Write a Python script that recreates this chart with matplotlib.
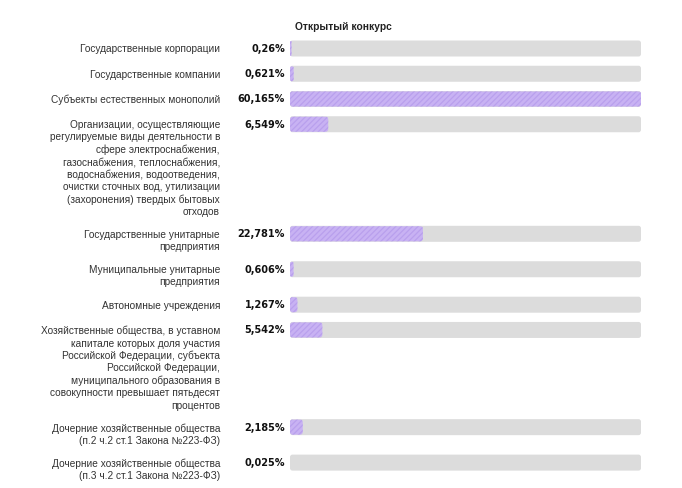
import matplotlib.pyplot as plt
from matplotlib.patches import FancyBboxPatch

plt.rcParams['font.family'] = ['Liberation Sans', 'DejaVu Sans']
plt.rcParams['hatch.linewidth'] = 0.9

title = "Открытый конкурс"

categories = [
    "Государственные корпорации",
    "Государственные компании",
    "Субъекты естественных монополий",
    "Организации, осуществляющие\nрегулируемые виды деятельности в\nсфере электроснабжения,\n"
    "газоснабжения, теплоснабжения,\nводоснабжения, водоотведения,\n"
    "очистки сточных вод, утилизации\n(захоронения) твердых бытовых\nотходов",
    "Государственные унитарные\nпредприятия",
    "Муниципальные унитарные\nпредприятия",
    "Автономные учреждения",
    "Хозяйственные общества, в уставном\nкапитале которых доля участия\n"
    "Российской Федерации, субъекта\nРоссийской Федерации,\n"
    "муниципального образования в\nсовокупности превышает пятьдесят\nпроцентов",
    "Дочерние хозяйственные общества\n(п.2 ч.2 ст.1 Закона №223-ФЗ)",
    "Дочерние хозяйственные общества\n(п.3 ч.2 ст.1 Закона №223-ФЗ)",
]
values = [0.26, 0.621, 60.165, 6.549, 22.781, 0.606, 1.267, 5.542, 2.185, 0.025]
value_labels = ["0,26%", "0,621%", "60,165%", "6,549%", "22,781%",
                "0,606%", "1,267%", "5,542%", "2,185%", "0,025%"]

W, H = 682, 488
fig = plt.figure(figsize=(W / 100, H / 100), dpi=100)
fig.patch.set_facecolor('white')

# text layer in pixel coords
tx = fig.add_axes([0, 0, 1, 1])
tx.set_xlim(0, W)
tx.set_ylim(H, 0)
tx.axis('off')

# bar layer: track spans x 290..641 px
bx0, bx1 = 290, 641
vmax = max(values)
bx = fig.add_axes([bx0 / W, 0, (bx1 - bx0) / W, 1])
bx.set_xlim(0, vmax)
bx.set_ylim(H, 0)
bx.axis('off')
px_per_unit = (bx1 - bx0) / vmax

# row height grows with the number of label lines
line_h = 12.35
row_gap = 10.75
y = 48.5
centers = []
for cat in categories:
    centers.append(y)
    y += max(14.5, line_h * (cat.count('\n') + 1)) + row_gap

tx.text(343, 27, title, ha='center', va='center', fontsize=7.4, fontweight='bold', color='#222222')

bar_h = 16
r = 2.5
for cat, v, lab, yc in zip(categories, values, value_labels, centers):
    tx.text(220, yc - 4, cat, ha='right', va='top', fontsize=7.3, color='#333333',
            linespacing=1.27, multialignment='right')
    tx.text(285, yc + 0.5, lab, ha='right', va='center', fontsize=7.0, fontweight='bold',
            color='#111111', family='DejaVu Sans')
    track = FancyBboxPatch((0, yc - bar_h / 2), vmax, bar_h,
                           boxstyle=f"round,pad=0,rounding_size={r / px_per_unit}",
                           mutation_aspect=px_per_unit, facecolor='#dcdcdc',
                           edgecolor='none', linewidth=0)
    bx.add_patch(track)
    if v / vmax * (bx1 - bx0) >= 0.5:
        w = v
        rs = min(r / px_per_unit, w / 2)
        bar = FancyBboxPatch((0, yc - bar_h / 2 + 0.5), w, bar_h - 1,
                             boxstyle=f"round,pad=0,rounding_size={rs}",
                             mutation_aspect=px_per_unit, facecolor='#c8b2f3',
                             edgecolor='#b9a0ed', linewidth=0, hatch='//////')
        bx.add_patch(bar)

fig.savefig('out.png', dpi=100, facecolor='white')
